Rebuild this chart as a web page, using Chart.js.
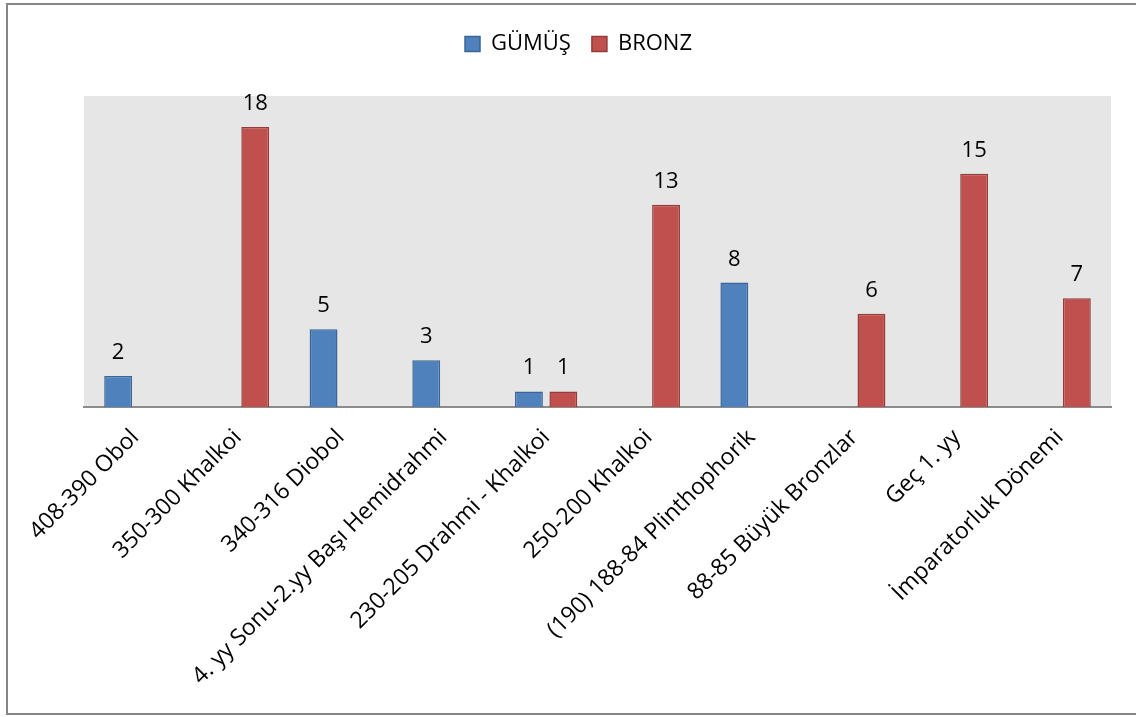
<!DOCTYPE html>
<html><head><meta charset="utf-8">
<script src="https://cdn.jsdelivr.net/npm/chart.js@4"></script>
<style>html,body{margin:0;padding:0;background:#fff}#wrap{width:1136px;height:717px;position:relative}</style>
</head><body><div id="wrap"><canvas id="c" width="1136" height="717"></canvas></div>
<script>
const categories = ["408-390 Obol","350-300 Khalkoi","340-316 Diobol","4. yy Sonu-2.yy Başı Hemidrahmi","230-205 Drahmi - Khalkoi","250-200 Khalkoi","(190) 188-84 Plinthophorik","88-85 Büyük Bronzlar","Geç 1. yy","İmparatorluk Dönemi"];
const gumus = [2,null,5,3,1,null,8,null,null,null];
const bronz = [null,18,null,null,1,13,null,6,15,7];
const seriesNames = ["GÜMÜŞ","BRONZ"];
const FONT = "'Open Sans', sans-serif";

const bgPlugin = {
  id:'bg',
  beforeInit(chart){
    const lg = chart.legend;
    if (lg) { const of = lg.fit; lg.fit = function(){ of.call(this); this.height = 84; }; }
  },
  afterLayout(chart){
    const lg = chart.legend;
    if (lg) { lg.left -= 19; lg.right -= 19; }
  },
  beforeDraw(chart){
    const {ctx, chartArea:a} = chart;
    ctx.save();
    ctx.fillStyle='#fff'; ctx.fillRect(0,0,chart.width,chart.height);
    ctx.strokeStyle='#868686'; ctx.lineWidth=2;
    ctx.strokeRect(7,4,chart.width+10,710);
    ctx.fillStyle='#E6E6E6';
    ctx.fillRect(a.left,a.top,a.right-a.left,a.bottom-a.top);
    ctx.restore();
  }
};
const labelPlugin = {
  id:'vals',
  afterDatasetsDraw(chart){
    const ctx=chart.ctx;
    ctx.save();
    ctx.font="22px "+FONT; ctx.fillStyle='#000'; ctx.textAlign='center'; ctx.textBaseline='alphabetic';
    chart.data.datasets.forEach((ds,i)=>{
      chart.getDatasetMeta(i).data.forEach((el,j)=>{
        const v=ds.data[j]; if(v==null) return;
        ctx.fillText(String(v), el.x, el.y-17);
      });
    });
    ctx.restore();
  }
};
new Chart(document.getElementById('c'),{
  type:'bar',
  data:{labels:categories,datasets:[
    {label:seriesNames[0],data:gumus,backgroundColor:'#4F81BD',borderColor:'#3A6597',borderWidth:1.5,categoryPercentage:0.67,barPercentage:0.81},
    {label:seriesNames[1],data:bronz,backgroundColor:'#C0504D',borderColor:'#953C3A',borderWidth:1.5,categoryPercentage:0.67,barPercentage:0.81}
  ]},
  options:{
    responsive:false,animation:false,
    layout:{padding:{left:84,right:25,top:12,bottom:0}},
    plugins:{
      legend:{position:'top',labels:{font:{family:FONT,size:22},color:'#000',boxWidth:15,boxHeight:15,padding:21}},
      tooltip:{enabled:false}
    },
    scales:{
      x:{grid:{display:false,drawTicks:false},border:{color:'#8c8c8c',width:2},
         afterFit(s){ s.height = 310; s.paddingLeft = 0; },
         ticks:{font:{family:FONT,size:23},color:'#000',maxRotation:45,minRotation:45,padding:17,autoSkip:false}},
      y:{display:false,min:0,max:20}
    }
  },
  plugins:[bgPlugin,labelPlugin]
});
</script></body></html>
